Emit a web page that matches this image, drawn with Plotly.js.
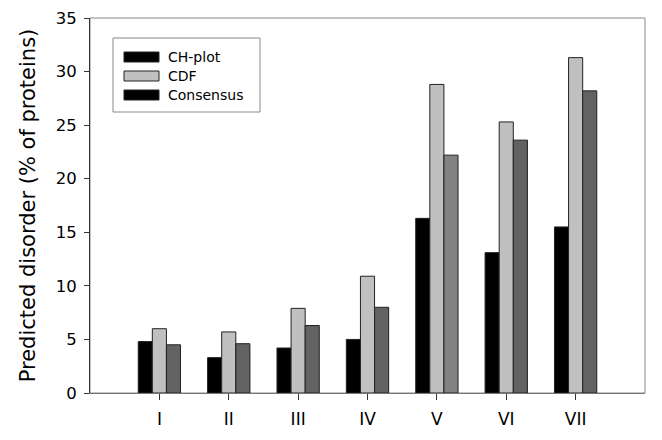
<!DOCTYPE html>
<html>
<head>
<meta charset="utf-8">
<script src="https://cdn.plot.ly/plotly-3.0.1.min.js"></script>
<style>
  body { margin: 0; background: #fff; }
  #grafico { width: 662px; height: 440px; }
</style>
</head>
<body>
<div id="grafico"></div>
<script>
const grupos = ["I", "II", "III", "IV", "V", "VI", "VII"];
const chPlot = [4.8, 3.3, 4.2, 5.0, 16.3, 13.1, 15.5];
const cdf = [6.0, 5.7, 7.9, 10.9, 28.8, 25.3, 31.3];
const consenso = [4.5, 4.6, 6.3, 8.0, 22.2, 23.6, 28.2];
const yTicks = [0, 5, 10, 15, 20, 25, 30, 35];

// the V consensus bar is a lighter grey in the original
const coresConsenso = grupos.map(g => (g === "V" ? "#828282" : "#626262"));

const contorno = { color: "#222", width: 1 };
const fonte = { family: "DejaVu Sans, sans-serif", color: "#000" };

const traces = [
    {
        type: "bar",
        x: grupos,
        y: chPlot,
        name: "CH-plot",
        marker: { color: "#000", line: contorno },
    },
    {
        type: "bar",
        x: grupos,
        y: cdf,
        name: "CDF",
        marker: { color: "#c0c0c0", line: contorno },
    },
    {
        type: "bar",
        x: grupos,
        y: consenso,
        name: "Consensus",
        marker: { color: coresConsenso, line: contorno },
    },
];

// margins in px, used to place the hand made legend
const M = { t: 18, r: 17, b: 47, l: 90 };
const W = 662 - M.l - M.r;
const H = 440 - M.t - M.b;
const px = x => (x - M.l) / W;
const py = y => (440 - M.b - y) / H;

// legend as drawn in the original (Consensus swatch is black there)
const legendaCores = ["#000", "#c0c0c0", "#000"];
const legendaY = [57, 76, 95];

const shapes = [
    {
        type: "rect", xref: "paper", yref: "paper",
        x0: 0, x1: 1, y0: 0, y1: 1,
        line: { color: "#888", width: 1 }, layer: "below",
    },
    {
        type: "rect", xref: "paper", yref: "paper",
        x0: px(113), x1: px(260), y0: py(112), y1: py(38),
        line: { color: "#888", width: 1 }, fillcolor: "#fff",
    },
];
const annotations = [];
traces.forEach((t, i) => {
    shapes.push({
        type: "rect", xref: "paper", yref: "paper",
        x0: px(124), x1: px(159), y0: py(legendaY[i] + 5), y1: py(legendaY[i] - 5),
        line: { color: "#222", width: 1 }, fillcolor: legendaCores[i],
    });
    annotations.push({
        xref: "paper", yref: "paper",
        x: px(166), y: py(legendaY[i]),
        xanchor: "left", yanchor: "middle",
        text: t.name, showarrow: false,
        font: { ...fonte, size: 14 },
    });
});

const layout = {
    width: 662,
    height: 440,
    paper_bgcolor: "#fff",
    plot_bgcolor: "#fff",
    font: { ...fonte, size: 15 },
    margin: M,
    barmode: "group",
    bargap: 0.39,
    bargroupgap: 0,
    showlegend: false,
    xaxis: {
        type: "category",
        range: [-1, 7],
        showline: true,
        linecolor: "#777",
        linewidth: 1,
        ticks: "outside",
        ticklen: 6,
        tickcolor: "#333",
        ticklabelstandoff: 5,
        showgrid: false,
        zeroline: false,
        tickfont: { ...fonte, size: 17 },
        fixedrange: true,
    },
    yaxis: {
        range: [0, 35],
        tickvals: yTicks,
        showline: true,
        linecolor: "#333",
        linewidth: 1,
        ticks: "outside",
        ticklen: 5,
        tickcolor: "#333",
        ticklabelstandoff: 4,
        showgrid: false,
        zeroline: false,
        tickfont: { ...fonte, size: 16.5 },
        title: { text: "Predicted disorder (% of proteins)", font: { ...fonte, size: 21 }, standoff: 14 },
        fixedrange: true,
    },
    shapes: shapes,
    annotations: annotations,
};

Plotly.newPlot("grafico", traces, layout, { displayModeBar: false, staticPlot: true });
</script>
</body>
</html>
